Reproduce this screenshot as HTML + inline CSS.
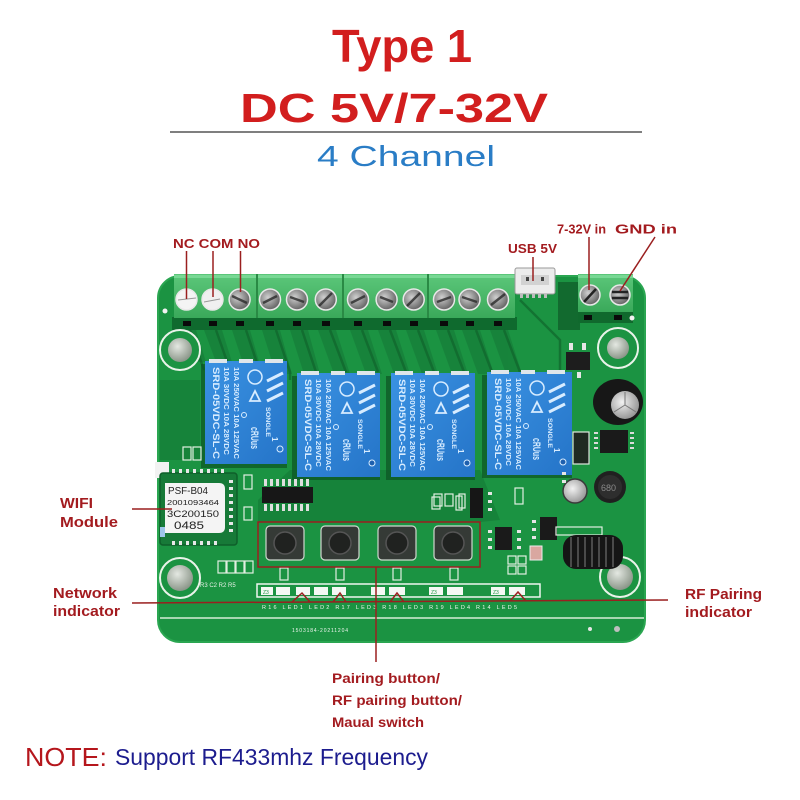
<!DOCTYPE html>
<html><head><meta charset="utf-8"><style>
html,body{margin:0;padding:0;background:#fff;}
svg{display:block;}
</style></head><body>
<svg width="800" height="800" viewBox="0 0 800 800" xmlns="http://www.w3.org/2000/svg" font-family="'Liberation Sans', Arial, sans-serif">
<defs>
 <radialGradient id="screw" cx="0.4" cy="0.4" r="0.75"><stop offset="0" stop-color="#d0d0d0"/><stop offset="1" stop-color="#4a4a4a"/></radialGradient>
 <radialGradient id="hole" cx="0.4" cy="0.35" r="0.75"><stop offset="0" stop-color="#e4e8e2"/><stop offset="1" stop-color="#7e8a7c"/></radialGradient>
 <linearGradient id="relay" x1="0" y1="0" x2="1" y2="1"><stop offset="0" stop-color="#3a92e2"/><stop offset="1" stop-color="#2574c8"/></linearGradient>
 <linearGradient id="term" x1="0" y1="0" x2="0" y2="1"><stop offset="0" stop-color="#5cc77a"/><stop offset="1" stop-color="#3aa95a"/></linearGradient>
 <radialGradient id="silver" cx="0.4" cy="0.4" r="0.7"><stop offset="0" stop-color="#f2f2f2"/><stop offset="1" stop-color="#8a8a8a"/></radialGradient>
</defs>

<!-- ===== Titles ===== -->
<text x="332" y="62" font-size="46" font-weight="bold" fill="#d21e1e" textLength="140" lengthAdjust="spacingAndGlyphs">Type 1</text>
<text x="240" y="122" font-size="41" font-weight="bold" fill="#d21e1e" textLength="308" lengthAdjust="spacingAndGlyphs">DC 5V/7-32V</text>
<line x1="170" y1="132" x2="642" y2="132" stroke="#555" stroke-width="1.5"/>
<text x="317" y="166" font-size="29" fill="#2a7dc6" textLength="178" lengthAdjust="spacingAndGlyphs">4 Channel</text>

<!-- ===== PCB board ===== -->
<rect x="158" y="276" width="487" height="366" rx="22" fill="#1b9342"/>
<rect x="158" y="276" width="487" height="366" rx="22" fill="none" stroke="#2aa651" stroke-width="2"/>

<!-- darker areas around lower middle -->
<g fill="#147836" opacity="0.6">
 <polygon points="290,470 480,470 500,520 480,522 258,522 258,500"/>
 <polygon points="160,380 200,380 200,460 160,460"/>
</g>

<!-- dark band under terminals -->
<rect x="172" y="317" width="345" height="13" fill="#0f6a2e"/>
<!-- trace stripes -->
<g fill="#157a37" opacity="0.6">
 <polygon points="178,330 196,330 206,362 190,362"/>
 <polygon points="204,330 222,330 232,362 216,362"/>
 <polygon points="232,330 250,330 262,372 246,372"/>
 <polygon points="262,330 280,330 292,374 276,374"/>
 <polygon points="290,330 308,330 320,374 304,374"/>
 <polygon points="318,330 336,330 350,374 334,374"/>
 <polygon points="350,330 368,330 382,374 366,374"/>
 <polygon points="378,330 396,330 410,374 394,374"/>
 <polygon points="406,330 424,330 438,374 422,374"/>
 <polygon points="436,330 454,330 468,374 452,374"/>
 <polygon points="462,330 480,330 494,374 478,374"/>
 <polygon points="490,330 508,330 522,374 506,374"/>
</g>
<g stroke="#0f5f29" stroke-width="2.5" fill="none" opacity="0.6">
 <path d="M190,330 L204,370"/><path d="M216,330 L230,370"/><path d="M246,330 L260,372"/>
 <path d="M276,330 L290,372 L290,380"/><path d="M302,330 L316,372"/><path d="M330,330 L346,372"/>
 <path d="M362,330 L378,372"/><path d="M390,330 L406,372"/><path d="M418,330 L434,372"/>
 <path d="M448,330 L464,372"/><path d="M476,330 L492,372"/><path d="M504,330 L520,372"/>
 <path d="M520,300 L560,340 L560,372"/>
</g>

<!-- terminal blocks -->
<g>
 <rect x="174" y="274" width="82" height="44" fill="url(#term)"/>
 <rect x="258" y="274" width="84" height="44" fill="url(#term)"/>
 <rect x="344" y="274" width="83" height="44" fill="url(#term)"/>
 <rect x="429" y="274" width="86" height="44" fill="url(#term)"/>
 <g fill="#78d894"><rect x="174" y="275" width="82" height="3"/><rect x="258" y="275" width="84" height="3"/><rect x="344" y="275" width="83" height="3"/><rect x="429" y="275" width="86" height="3"/></g>
 <g fill="#2a8a45"><rect x="256" y="274" width="2" height="44"/><rect x="342" y="274" width="2" height="44"/><rect x="427" y="274" width="2" height="44"/></g>
</g>
<!-- slots -->
<g fill="#0a0a0a">
 <rect x="183" y="321" width="8" height="5"/><rect x="209" y="321" width="8" height="5"/><rect x="236" y="321" width="8" height="5"/>
 <rect x="266" y="321" width="8" height="5"/><rect x="293" y="321" width="8" height="5"/><rect x="322" y="321" width="8" height="5"/>
 <rect x="354" y="321" width="8" height="5"/><rect x="383" y="321" width="8" height="5"/><rect x="410" y="321" width="8" height="5"/>
 <rect x="440" y="321" width="8" height="5"/><rect x="466" y="321" width="8" height="5"/><rect x="494" y="321" width="8" height="5"/>
</g>
<!-- screws -->
<g stroke="#e8e8e8" stroke-width="1.5">
 <circle cx="186.5" cy="299.5" r="10.5" fill="#f4f4f4"/>
 <circle cx="212.5" cy="299.5" r="10.5" fill="#f0f0f0"/>
 <circle cx="239.6" cy="299.5" r="10.5" fill="url(#screw)"/>
 <circle cx="270" cy="299.5" r="10.5" fill="url(#screw)"/>
 <circle cx="297" cy="299.5" r="10.5" fill="url(#screw)"/>
 <circle cx="325.8" cy="299.5" r="10.5" fill="url(#screw)"/>
 <circle cx="358" cy="299.5" r="10.5" fill="url(#screw)"/>
 <circle cx="386.6" cy="299.5" r="10.5" fill="url(#screw)"/>
 <circle cx="413.7" cy="299.5" r="10.5" fill="url(#screw)"/>
 <circle cx="444" cy="299.5" r="10.5" fill="url(#screw)"/>
 <circle cx="469.5" cy="299.5" r="10.5" fill="url(#screw)"/>
 <circle cx="498" cy="299.5" r="10.5" fill="url(#screw)"/>
</g>
<g stroke="#2a2a2a" stroke-width="2.5" opacity="0.8">
 <line x1="232" y1="296" x2="247" y2="303"/><line x1="263" y1="303" x2="277" y2="296"/>
 <line x1="290" y1="297" x2="304" y2="302"/><line x1="319" y1="306" x2="332" y2="293"/>
 <line x1="351" y1="303" x2="365" y2="296"/><line x1="380" y1="297" x2="393" y2="302"/>
 <line x1="407" y1="306" x2="420" y2="293"/><line x1="437" y1="302" x2="451" y2="297"/>
 <line x1="462" y1="297" x2="477" y2="302"/><line x1="491" y1="305" x2="505" y2="294"/>
</g>
<g stroke="#999" stroke-width="1"><line x1="178" y1="300" x2="196" y2="298"/><line x1="204" y1="302" x2="220" y2="299"/></g>

<!-- USB -->
<rect x="515" y="268" width="40" height="26" rx="2" fill="#ececec" stroke="#9a9a9a"/>
<rect x="521" y="275" width="28" height="10" fill="#d2d2d2"/>
<rect x="526" y="277" width="3" height="4" fill="#444"/><rect x="541" y="277" width="3" height="4" fill="#444"/>
<g fill="#bdbdbd"><rect x="520" y="294" width="3" height="4"/><rect x="526" y="294" width="3" height="4"/><rect x="532" y="294" width="3" height="4"/><rect x="538" y="294" width="3" height="4"/><rect x="544" y="294" width="3" height="4"/></g>

<!-- power terminal -->
<rect x="558" y="282" width="22" height="48" fill="#126a2f"/>
<rect x="578" y="274" width="55" height="38" fill="url(#term)"/>
<rect x="578" y="275" width="55" height="3" fill="#78d894"/>
<rect x="578" y="312" width="55" height="11" fill="#10692d"/>
<rect x="584" y="315" width="8" height="5" fill="#0a0a0a"/><rect x="614" y="315" width="8" height="5" fill="#0a0a0a"/>
<circle cx="590" cy="295" r="10" fill="url(#screw)" stroke="#e8e8e8" stroke-width="1.5"/>
<circle cx="620" cy="295" r="10" fill="url(#screw)" stroke="#e8e8e8" stroke-width="1.5"/>
<g stroke="#222" stroke-width="2.5"><line x1="584" y1="302" x2="596" y2="289"/><line x1="612" y1="292" x2="628" y2="292"/><line x1="612" y1="298" x2="628" y2="298"/></g>

<!-- mounting holes -->
<g>
 <circle cx="180" cy="350" r="20" fill="#1b9342" stroke="#e9f3e9" stroke-width="2"/>
 <circle cx="180" cy="350" r="12" fill="url(#hole)"/>
 <circle cx="618" cy="348" r="20" fill="#1b9342" stroke="#e9f3e9" stroke-width="2"/>
 <circle cx="618" cy="348" r="11" fill="url(#hole)"/>
 <circle cx="180" cy="578" r="20" fill="#1b9342" stroke="#e9f3e9" stroke-width="2"/>
 <circle cx="180" cy="578" r="13" fill="url(#hole)"/>
 <circle cx="620" cy="577" r="20" fill="#1b9342" stroke="#e9f3e9" stroke-width="2"/>
 <circle cx="620" cy="577" r="13" fill="url(#hole)"/>
 <circle cx="165" cy="311" r="2.5" fill="#f2f2f2"/>
 <circle cx="632" cy="318" r="2.5" fill="#f2f2f2"/>
</g>

<!-- relay shadows -->
<g fill="#0d5424" opacity="0.7">
 <rect x="201" y="364" width="86" height="104"/>
 <rect x="292" y="376" width="88" height="104"/>
 <rect x="386" y="376" width="89" height="104"/>
 <rect x="482" y="375" width="90" height="103"/>
</g>

<!-- relays -->
<g transform="translate(205,361)">
 <rect width="82" height="103" fill="url(#relay)"/>
 <rect x="4" y="-2" width="18" height="4" fill="#dfe6ea"/><rect x="34" y="-2" width="14" height="4" fill="#dfe6ea"/><rect x="60" y="-2" width="18" height="4" fill="#dfe6ea"/>
 <g fill="#d7ecff" font-weight="bold">
  <text transform="translate(8,6) rotate(90)" font-size="9.5" textLength="92" lengthAdjust="spacingAndGlyphs">SRD-05VDC-SL-C</text>
  <text transform="translate(19,6) rotate(90)" font-size="7.5" textLength="88" lengthAdjust="spacingAndGlyphs">10A 30VDC 10A 28VDC</text>
  <text transform="translate(29,6) rotate(90)" font-size="7.5" textLength="92" lengthAdjust="spacingAndGlyphs">10A 250VAC 10A 125VAC</text>
  <text transform="translate(61,46) rotate(90)" font-size="6.5" textLength="30" lengthAdjust="spacingAndGlyphs">SONGLE</text>
  <text transform="translate(46,66) rotate(90)" font-size="11" textLength="22" lengthAdjust="spacingAndGlyphs">cRUus</text>
  <text transform="translate(67,76) rotate(90)" font-size="8">1</text>
 </g>
 <circle cx="50" cy="16" r="7" fill="none" stroke="#d7ecff" stroke-width="1.5"/>
 <polygon points="45,40 55,40 50,30" fill="none" stroke="#d7ecff" stroke-width="1.8"/>
 <g stroke="#d7ecff" stroke-width="3"><line x1="62" y1="20" x2="78" y2="12"/><line x1="62" y1="30" x2="78" y2="22"/><line x1="62" y1="40" x2="78" y2="32"/></g>
 <circle cx="39" cy="54" r="2.5" fill="none" stroke="#d7ecff"/>
 <circle cx="75" cy="88" r="3" fill="none" stroke="#d7ecff"/>
</g>
<g transform="translate(297,373)">
 <rect width="83" height="104" fill="url(#relay)"/>
 <rect x="4" y="-2" width="18" height="4" fill="#dfe6ea"/><rect x="34" y="-2" width="14" height="4" fill="#dfe6ea"/><rect x="60" y="-2" width="18" height="4" fill="#dfe6ea"/>
 <g fill="#d7ecff" font-weight="bold">
  <text transform="translate(8,6) rotate(90)" font-size="9.5" textLength="92" lengthAdjust="spacingAndGlyphs">SRD-05VDC-SL-C</text>
  <text transform="translate(19,6) rotate(90)" font-size="7.5" textLength="88" lengthAdjust="spacingAndGlyphs">10A 30VDC 10A 28VDC</text>
  <text transform="translate(29,6) rotate(90)" font-size="7.5" textLength="92" lengthAdjust="spacingAndGlyphs">10A 250VAC 10A 125VAC</text>
  <text transform="translate(61,46) rotate(90)" font-size="6.5" textLength="30" lengthAdjust="spacingAndGlyphs">SONGLE</text>
  <text transform="translate(46,66) rotate(90)" font-size="11" textLength="22" lengthAdjust="spacingAndGlyphs">cRUus</text>
  <text transform="translate(67,76) rotate(90)" font-size="8">1</text>
 </g>
 <circle cx="50" cy="16" r="7" fill="none" stroke="#d7ecff" stroke-width="1.5"/>
 <polygon points="45,40 55,40 50,30" fill="none" stroke="#d7ecff" stroke-width="1.8"/>
 <g stroke="#d7ecff" stroke-width="3"><line x1="62" y1="20" x2="78" y2="12"/><line x1="62" y1="30" x2="78" y2="22"/><line x1="62" y1="40" x2="78" y2="32"/></g>
 <circle cx="39" cy="54" r="2.5" fill="none" stroke="#d7ecff"/>
 <circle cx="75" cy="90" r="3" fill="#1d5fae" stroke="#d7ecff"/>
</g>
<g transform="translate(391,373)">
 <rect width="84" height="104" fill="url(#relay)"/>
 <rect x="4" y="-2" width="18" height="4" fill="#dfe6ea"/><rect x="34" y="-2" width="14" height="4" fill="#dfe6ea"/><rect x="60" y="-2" width="18" height="4" fill="#dfe6ea"/>
 <g fill="#d7ecff" font-weight="bold">
  <text transform="translate(8,6) rotate(90)" font-size="9.5" textLength="92" lengthAdjust="spacingAndGlyphs">SRD-05VDC-SL-C</text>
  <text transform="translate(19,6) rotate(90)" font-size="7.5" textLength="88" lengthAdjust="spacingAndGlyphs">10A 30VDC 10A 28VDC</text>
  <text transform="translate(29,6) rotate(90)" font-size="7.5" textLength="92" lengthAdjust="spacingAndGlyphs">10A 250VAC 10A 125VAC</text>
  <text transform="translate(61,46) rotate(90)" font-size="6.5" textLength="30" lengthAdjust="spacingAndGlyphs">SONGLE</text>
  <text transform="translate(46,66) rotate(90)" font-size="11" textLength="22" lengthAdjust="spacingAndGlyphs">cRUus</text>
  <text transform="translate(67,76) rotate(90)" font-size="8">1</text>
 </g>
 <circle cx="50" cy="16" r="7" fill="none" stroke="#d7ecff" stroke-width="1.5"/>
 <polygon points="45,40 55,40 50,30" fill="none" stroke="#d7ecff" stroke-width="1.8"/>
 <g stroke="#d7ecff" stroke-width="3"><line x1="62" y1="20" x2="78" y2="12"/><line x1="62" y1="30" x2="78" y2="22"/><line x1="62" y1="40" x2="78" y2="32"/></g>
 <circle cx="39" cy="54" r="2.5" fill="none" stroke="#d7ecff"/>
 <circle cx="76" cy="90" r="3" fill="#1d5fae" stroke="#d7ecff"/>
</g>
<g transform="translate(487,372)">
 <rect width="85" height="103" fill="url(#relay)"/>
 <rect x="4" y="-2" width="18" height="4" fill="#dfe6ea"/><rect x="34" y="-2" width="14" height="4" fill="#dfe6ea"/><rect x="60" y="-2" width="18" height="4" fill="#dfe6ea"/>
 <g fill="#d7ecff" font-weight="bold">
  <text transform="translate(8,6) rotate(90)" font-size="9.5" textLength="92" lengthAdjust="spacingAndGlyphs">SRD-05VDC-SL-C</text>
  <text transform="translate(19,6) rotate(90)" font-size="7.5" textLength="88" lengthAdjust="spacingAndGlyphs">10A 30VDC 10A 28VDC</text>
  <text transform="translate(29,6) rotate(90)" font-size="7.5" textLength="92" lengthAdjust="spacingAndGlyphs">10A 250VAC 10A 125VAC</text>
  <text transform="translate(61,46) rotate(90)" font-size="6.5" textLength="30" lengthAdjust="spacingAndGlyphs">SONGLE</text>
  <text transform="translate(46,66) rotate(90)" font-size="11" textLength="22" lengthAdjust="spacingAndGlyphs">cRUus</text>
  <text transform="translate(67,76) rotate(90)" font-size="8">1</text>
 </g>
 <circle cx="50" cy="16" r="7" fill="none" stroke="#d7ecff" stroke-width="1.5"/>
 <polygon points="45,40 55,40 50,30" fill="none" stroke="#d7ecff" stroke-width="1.8"/>
 <g stroke="#d7ecff" stroke-width="3"><line x1="62" y1="20" x2="78" y2="12"/><line x1="62" y1="30" x2="78" y2="22"/><line x1="62" y1="40" x2="78" y2="32"/></g>
 <circle cx="39" cy="54" r="2.5" fill="none" stroke="#d7ecff"/>
 <circle cx="76" cy="90" r="3" fill="#1d5fae" stroke="#d7ecff"/>
</g>

<!-- right side components -->
<rect x="566" y="352" width="24" height="18" fill="#1d1d1d"/>
<g fill="#e6e6e6"><rect x="569" y="343" width="4" height="7"/><rect x="582" y="343" width="4" height="7"/><rect x="577" y="372" width="4" height="6"/></g>
<ellipse cx="618" cy="402" rx="25" ry="23" fill="#171717"/>
<circle cx="625" cy="405" r="14" fill="url(#silver)"/>
<g stroke="#777" stroke-width="1"><line x1="625" y1="405" x2="625" y2="392"/><line x1="625" y1="405" x2="614" y2="412"/><line x1="625" y1="405" x2="636" y2="412"/></g>
<rect x="573" y="432" width="16" height="32" fill="#1f2a22" stroke="#dfe9df" stroke-width="1.2"/>
<rect x="600" y="430" width="28" height="23" fill="#1a1a1a"/>
<g fill="#dcdcdc"><rect x="594" y="432" width="4" height="2"/><rect x="594" y="437" width="4" height="2"/><rect x="594" y="442" width="4" height="2"/><rect x="594" y="447" width="4" height="2"/><rect x="630" y="432" width="4" height="2"/><rect x="630" y="437" width="4" height="2"/><rect x="630" y="442" width="4" height="2"/><rect x="630" y="447" width="4" height="2"/></g>
<circle cx="610" cy="487" r="16" fill="#202020"/>
<circle cx="610" cy="487" r="12" fill="#2e2e2e"/>
<text x="601" y="491" font-size="9" fill="#8a8a8a">680</text>
<circle cx="575" cy="491" r="12" fill="url(#silver)" stroke="#3a3a3a" stroke-width="1.5"/>

<!-- small components mid-right -->
<rect x="470" y="488" width="13" height="30" fill="#161616"/>
<rect x="495" y="527" width="17" height="23" fill="#1a1a1a"/>
<rect x="540" y="517" width="17" height="23" fill="#1a1a1a"/>
<rect x="530" y="546" width="12" height="14" fill="#d9a7a0" stroke="#eee"/>
<g fill="none" stroke="#e2efe2" stroke-width="1.2">
 <rect x="434" y="494" width="8" height="12"/><rect x="445" y="494" width="8" height="12"/>
 <rect x="456" y="496" width="6" height="14"/>
 <rect x="515" y="488" width="8" height="16"/>
 <rect x="508" y="556" width="8" height="8"/><rect x="508" y="566" width="8" height="8"/><rect x="518" y="556" width="8" height="8"/><rect x="518" y="566" width="8" height="8"/>
 <rect x="556" y="527" width="46" height="8"/>
</g>
<g fill="#e6e6e6">
 <rect x="488" y="492" width="4" height="3"/><rect x="488" y="500" width="4" height="3"/><rect x="488" y="508" width="4" height="3"/>
 <rect x="488" y="530" width="4" height="3"/><rect x="488" y="538" width="4" height="3"/><rect x="488" y="546" width="4" height="3"/>
 <rect x="517" y="530" width="4" height="3"/><rect x="517" y="538" width="4" height="3"/><rect x="517" y="546" width="4" height="3"/>
 <rect x="532" y="520" width="4" height="3"/><rect x="532" y="528" width="4" height="3"/><rect x="532" y="536" width="4" height="3"/>
 <rect x="562" y="472" width="4" height="3"/><rect x="562" y="480" width="4" height="3"/>
</g>

<!-- RF coil -->
<rect x="563" y="535" width="60" height="34" rx="13" fill="#151515"/>
<g stroke="#4a4a4a" stroke-width="2">
 <line x1="571" y1="537" x2="571" y2="567"/><line x1="578" y1="537" x2="578" y2="567"/><line x1="585" y1="537" x2="585" y2="567"/><line x1="592" y1="537" x2="592" y2="567"/><line x1="599" y1="537" x2="599" y2="567"/><line x1="606" y1="537" x2="606" y2="567"/><line x1="613" y1="537" x2="613" y2="567"/>
</g>

<!-- left-side small parts -->
<g fill="none" stroke="#e2efe2" stroke-width="1.2">
 <rect x="183" y="447" width="8" height="13"/><rect x="193" y="447" width="8" height="13"/>
 <rect x="244" y="475" width="8" height="14"/><rect x="244" y="507" width="8" height="13"/>
 <rect x="218" y="561" width="8" height="12"/><rect x="227" y="561" width="8" height="12"/><rect x="236" y="561" width="8" height="12"/><rect x="245" y="561" width="8" height="12"/>
</g>
<text x="200" y="587" font-size="6" fill="#e6f0e6">R3 C2 R2 R5</text>

<!-- IC -->
<rect x="262" y="487" width="51" height="16" fill="#171717"/>
<g fill="#dedede">
 <rect x="264" y="479" width="3" height="7"/><rect x="270" y="479" width="3" height="7"/><rect x="276" y="479" width="3" height="7"/><rect x="282" y="479" width="3" height="7"/><rect x="288" y="479" width="3" height="7"/><rect x="294" y="479" width="3" height="7"/><rect x="300" y="479" width="3" height="7"/><rect x="306" y="479" width="3" height="7"/>
 <rect x="264" y="504" width="3" height="7"/><rect x="270" y="504" width="3" height="7"/><rect x="276" y="504" width="3" height="7"/><rect x="282" y="504" width="3" height="7"/><rect x="288" y="504" width="3" height="7"/><rect x="294" y="504" width="3" height="7"/><rect x="300" y="504" width="3" height="7"/><rect x="306" y="504" width="3" height="7"/>
</g>
<g fill="none" stroke="#e2efe2" stroke-width="1.2"><rect x="432" y="497" width="8" height="12"/><rect x="459" y="494" width="6" height="14"/></g>

<!-- WIFI module -->
<rect x="155" y="462" width="14" height="16" fill="#f2f2f2"/>
<rect x="160" y="473" width="77" height="72" rx="3" fill="#177a38" stroke="#0f5f2a" stroke-width="1.5"/>
<g fill="#e8e8e8">
 <rect x="172" y="469" width="3" height="4"/><rect x="179" y="469" width="3" height="4"/><rect x="186" y="469" width="3" height="4"/><rect x="193" y="469" width="3" height="4"/><rect x="200" y="469" width="3" height="4"/><rect x="207" y="469" width="3" height="4"/><rect x="214" y="469" width="3" height="4"/><rect x="221" y="469" width="3" height="4"/>
 <rect x="172" y="541" width="3" height="4"/><rect x="179" y="541" width="3" height="4"/><rect x="186" y="541" width="3" height="4"/><rect x="193" y="541" width="3" height="4"/><rect x="200" y="541" width="3" height="4"/><rect x="207" y="541" width="3" height="4"/><rect x="214" y="541" width="3" height="4"/>
 <rect x="229" y="480" width="4" height="3"/><rect x="229" y="487" width="4" height="3"/><rect x="229" y="494" width="4" height="3"/><rect x="229" y="501" width="4" height="3"/><rect x="229" y="508" width="4" height="3"/><rect x="229" y="515" width="4" height="3"/><rect x="229" y="522" width="4" height="3"/><rect x="229" y="529" width="4" height="3"/>
</g>
<path d="M165,483 H219 Q225,483 225,489 V527 Q225,533 219,533 H165 Z" fill="#f4f4f4"/>
<g fill="#222">
 <text x="168" y="494" font-size="10" textLength="40" lengthAdjust="spacingAndGlyphs">PSF-B04</text>
 <text x="167" y="505" font-size="7.5" textLength="52" lengthAdjust="spacingAndGlyphs">2001093464</text>
 <text x="167" y="517" font-size="9" textLength="52" lengthAdjust="spacingAndGlyphs">3C200150</text>
 <text x="174" y="529" font-size="11" textLength="30" lengthAdjust="spacingAndGlyphs">0485</text>
</g>
<rect x="160" y="527" width="5" height="10" fill="#9ec6ea"/>

<!-- buttons -->
<g>
 <rect x="266" y="526" width="38" height="34" rx="4" fill="#353a36" stroke="#cfd8cf" stroke-width="1.2"/>
 <circle cx="285" cy="543" r="11" fill="#202220" stroke="#555" stroke-width="1.5"/>
 <rect x="321" y="526" width="38" height="34" rx="4" fill="#353a36" stroke="#cfd8cf" stroke-width="1.2"/>
 <circle cx="340" cy="543" r="11" fill="#202220" stroke="#555" stroke-width="1.5"/>
 <rect x="378" y="526" width="38" height="34" rx="4" fill="#353a36" stroke="#cfd8cf" stroke-width="1.2"/>
 <circle cx="397" cy="543" r="11" fill="#202220" stroke="#555" stroke-width="1.5"/>
 <rect x="434" y="526" width="38" height="34" rx="4" fill="#353a36" stroke="#cfd8cf" stroke-width="1.2"/>
 <circle cx="453" cy="543" r="11" fill="#202220" stroke="#555" stroke-width="1.5"/>
</g>
<!-- small resistors under buttons -->
<g fill="none" stroke="#e2efe2" stroke-width="1.2">
 <rect x="280" y="568" width="8" height="12"/><rect x="336" y="568" width="8" height="12"/><rect x="393" y="568" width="8" height="12"/><rect x="450" y="568" width="8" height="12"/>
</g>

<!-- LED strip -->
<rect x="257" y="584" width="283" height="13" fill="none" stroke="#f0f6f0" stroke-width="1.5"/>
<g fill="#f4f8f4">
 <rect x="261" y="587" width="12" height="8"/><rect x="276" y="587" width="14" height="8"/>
 <rect x="296" y="587" width="14" height="8"/><rect x="314" y="587" width="14" height="8"/><rect x="332" y="587" width="14" height="8"/>
 <rect x="371" y="587" width="14" height="8"/><rect x="389" y="587" width="16" height="8"/>
 <rect x="429" y="587" width="14" height="8"/><rect x="447" y="587" width="16" height="8"/>
 <rect x="491" y="587" width="14" height="8"/><rect x="509" y="587" width="16" height="8"/>
</g>
<g fill="#1b9342" font-size="5"><text x="263" y="594">Z3</text><text x="431" y="594">Z3</text><text x="493" y="594">Z3</text></g>
<text x="262" y="609" font-size="5.5" fill="#eef6ee" textLength="255" lengthAdjust="spacing">R16 LED1 LED2 R17 LED3   R18 LED3   R19 LED4   R14 LED5</text>
<line x1="160" y1="618" x2="644" y2="618" stroke="#d6ecd6" stroke-width="1.5"/>
<text x="292" y="632" font-size="5" fill="#eef6ee" textLength="56" lengthAdjust="spacing">1503184-20211204</text>
<circle cx="590" cy="629" r="2" fill="#e6e6e6"/><circle cx="617" cy="629" r="3" fill="#bfbfbf"/>

<!-- ===== Callout lines ===== -->
<g stroke="#9a1f1f" stroke-width="1.5" fill="none">
 <line x1="186.5" y1="251" x2="186.5" y2="299"/>
 <line x1="213" y1="251" x2="213" y2="297"/>
 <line x1="240.5" y1="251" x2="240.5" y2="292"/>
 <line x1="533" y1="257" x2="533" y2="281"/>
 <line x1="589" y1="237" x2="589" y2="290"/>
 <line x1="655" y1="237" x2="620" y2="291"/>
 <line x1="132" y1="509" x2="172" y2="509"/>
 <line x1="132" y1="603" x2="668" y2="600"/>
 <rect x="258" y="522" width="222" height="45"/>
 <line x1="376" y1="567" x2="376" y2="662"/>
 <path d="M292,602 L302,593 L310,602"/>
 <path d="M333,602 L340,593 L346,602"/>
 <path d="M390,602 L397,593 L404,602"/>
 <path d="M510,601 L518,592 L526,601"/>
</g>

<!-- ===== Labels ===== -->
<g fill="#a31b1f" font-weight="bold">
 <text x="173" y="248" font-size="13" textLength="87" lengthAdjust="spacingAndGlyphs">NC COM NO</text>
 <text x="508" y="253" font-size="13" textLength="49" lengthAdjust="spacingAndGlyphs">USB 5V</text>
 <text x="557" y="233.5" font-size="13" textLength="49" lengthAdjust="spacingAndGlyphs">7-32V in</text>
 <text x="615" y="233.5" font-size="13" textLength="62" lengthAdjust="spacingAndGlyphs">GND in</text>
</g>
<g fill="#a31b1f" font-weight="bold" font-size="15">
 <text x="60" y="508" textLength="33" lengthAdjust="spacingAndGlyphs">WIFI</text>
 <text x="60" y="527" textLength="58" lengthAdjust="spacingAndGlyphs">Module</text>
 <text x="53" y="598" textLength="64" lengthAdjust="spacingAndGlyphs">Network</text>
 <text x="53" y="616" textLength="67" lengthAdjust="spacingAndGlyphs">indicator</text>
 <text x="685" y="599" textLength="77" lengthAdjust="spacingAndGlyphs">RF Pairing</text>
 <text x="685" y="617" textLength="67" lengthAdjust="spacingAndGlyphs">indicator</text>
</g>
<g fill="#a31b1f" font-weight="bold" font-size="13.5">
 <text x="332" y="683" textLength="108" lengthAdjust="spacingAndGlyphs">Pairing button/</text>
 <text x="332" y="705" textLength="130" lengthAdjust="spacingAndGlyphs">RF pairing button/</text>
 <text x="332" y="727" textLength="92" lengthAdjust="spacingAndGlyphs">Maual switch</text>
</g>

<!-- NOTE -->
<text x="25" y="766" font-size="26" fill="#b5161c" textLength="82" lengthAdjust="spacingAndGlyphs">NOTE:</text>
<text x="115" y="765" font-size="23" fill="#1c1c8e" textLength="313" lengthAdjust="spacingAndGlyphs">Support RF433mhz Frequency</text>
</svg>
</body></html>
